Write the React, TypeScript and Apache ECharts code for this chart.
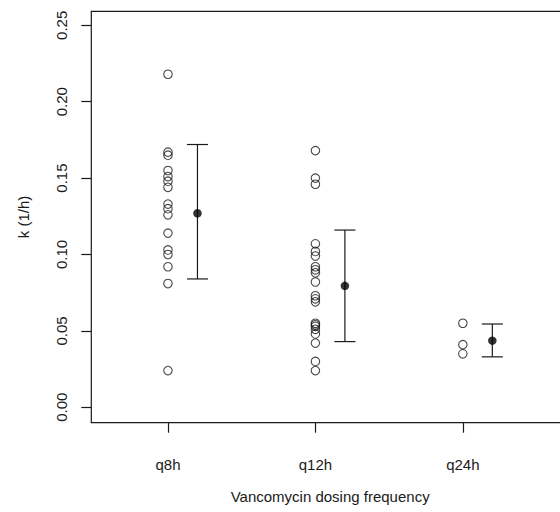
import React, { useEffect, useRef } from "react";
import * as echarts from "echarts";

// Dosing-frequency groups and individual elimination rate constants k (1/h)
const groups = ["q8h", "q12h", "q24h"];
const q8h = [0.218, 0.167, 0.165, 0.155, 0.151, 0.148, 0.144, 0.133, 0.13, 0.126, 0.114, 0.103, 0.1, 0.092, 0.081, 0.024];
const q12h = [0.168, 0.15, 0.146, 0.107, 0.102, 0.099, 0.092, 0.09, 0.088, 0.082, 0.073, 0.071, 0.069, 0.055, 0.054, 0.053, 0.051, 0.048, 0.042, 0.03, 0.024];
const q24h = [0.055, 0.041, 0.035];

// Group summaries: mean with lower / upper bar ends (mean ± SD)
const means = [0.127, 0.0795, 0.0436];
const lower = [0.084, 0.043, 0.033];
const upper = [0.172, 0.116, 0.0545];

const yTicks = [0, 0.05, 0.1, 0.15, 0.2, 0.25];
const xTicks = [1, 2, 3];

const FONT = "'Liberation Sans', Arial, Helvetica, sans-serif";
const INK = "#1a1a1a";

export default function App() {
  const ref = useRef<HTMLDivElement>(null);

  useEffect(() => {
    if (!ref.current) return;
    const chart = echarts.init(ref.current, undefined, { renderer: "svg" });

    const groupValues = [q8h, q12h, q24h];
    const rawPoints: number[][] = [];
    groupValues.forEach((vals, gi) => {
      vals.forEach((v) => rawPoints.push([gi + 1, v]));
    });
    const meanPoints = means.map((m, i) => [i + 1.2, m]);
    const bars = means.map((_, i) => [i + 1.2, lower[i], upper[i]]);

    chart.setOption({
      animation: false,
      backgroundColor: "#fff",
      textStyle: { fontFamily: FONT },
      grid: {
        left: 91.3,
        top: 11.3,
        width: 477.7,
        height: 411.4,
        outerBoundsMode: "none",
        containLabel: false,
        show: true,
        borderColor: INK,
        borderWidth: 1.2,
        backgroundColor: "transparent",
      },
      xAxis: {
        type: "value",
        min: 0.48,
        max: 3.72,
        name: "Vancomycin dosing frequency",
        nameLocation: "middle",
        nameGap: 66,
        nameTextStyle: { fontSize: 15, color: INK, fontFamily: FONT },
        axisLine: { show: false, onZero: false },
        splitLine: { show: false },
        axisTick: {
          show: true,
          inside: false,
          length: 10,
          customValues: xTicks,
          lineStyle: { color: INK, width: 1.2 },
        },
        axisLabel: {
          show: true,
          customValues: xTicks,
          margin: 34,
          fontSize: 15,
          color: INK,
          fontFamily: FONT,
          formatter: (v: number) => groups[Math.round(v) - 1] ?? "",
        },
      },
      yAxis: {
        type: "value",
        min: -0.0101,
        max: 0.2592,
        name: "k (1/h)",
        nameLocation: "middle",
        nameGap: 60,
        nameRotate: 90,
        nameTextStyle: { fontSize: 15, color: INK, fontFamily: FONT },
        axisLine: { show: false, onZero: false },
        splitLine: { show: false },
        axisTick: {
          show: true,
          inside: false,
          length: 10,
          customValues: yTicks,
          lineStyle: { color: INK, width: 1.2 },
        },
        axisLabel: {
          show: true,
          customValues: yTicks,
          rotate: 90,
          margin: 22,
          fontSize: 15,
          color: INK,
          fontFamily: FONT,
          formatter: (v: number) => v.toFixed(2),
        },
      },
      series: [
        {
          type: "scatter",
          data: rawPoints,
          symbol: "circle",
          symbolSize: 8.5,
          itemStyle: { color: "transparent", borderColor: INK, borderWidth: 1.1 },
          z: 3,
        },
        {
          type: "custom",
          data: bars,
          encode: { x: 0, y: [1, 2] },
          z: 2,
          renderItem: (params: any, api: any) => {
            const x = api.value(0);
            const lo = api.coord([x, api.value(1)]);
            const hi = api.coord([x, api.value(2)]);
            const half = 10.5;
            const style = { stroke: INK, lineWidth: 1.2, fill: null };
            return {
              type: "group",
              children: [
                { type: "line", shape: { x1: lo[0], y1: lo[1], x2: hi[0], y2: hi[1] }, style },
                { type: "line", shape: { x1: hi[0] - half, y1: hi[1], x2: hi[0] + half, y2: hi[1] }, style },
                { type: "line", shape: { x1: lo[0] - half, y1: lo[1], x2: lo[0] + half, y2: lo[1] }, style },
              ],
            };
          },
        },
        {
          type: "scatter",
          data: meanPoints,
          symbol: "circle",
          symbolSize: 8.5,
          itemStyle: { color: "#000", borderWidth: 0 },
          z: 4,
        },
      ],
    });

    return () => chart.dispose();
  }, []);

  return (
    <div style={{ position: "absolute", left: 0, top: 0, width: 560, height: 512, overflow: "hidden", background: "#fff" }}>
      <div ref={ref} style={{ width: 560, height: 512 }} />
    </div>
  );
}
